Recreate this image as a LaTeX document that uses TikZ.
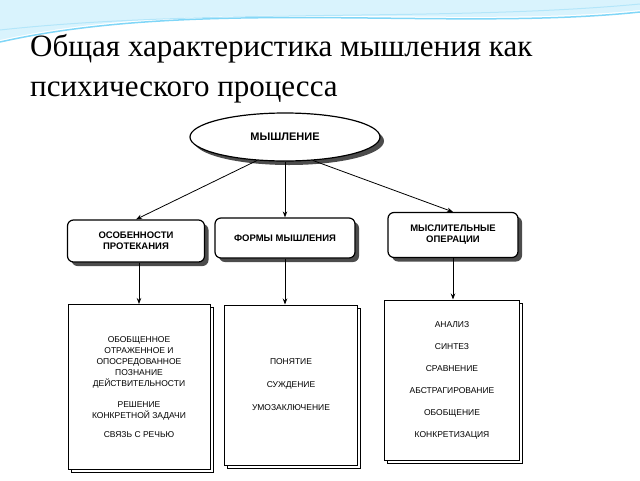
\documentclass[tikz,border=0pt]{standalone}
\usepackage{fontspec}
\setmainfont{Liberation Serif}
\newfontfamily\boxfont{Liberation Sans}
\usetikzlibrary{shapes.geometric,arrows.meta}
\tikzset{
  headbox/.style={draw,line width=1.2pt,rounded corners=6pt,fill=white,align=center,
    font=\boxfont\fontsize{9.5}{11}\selectfont\bfseries},
  listbox/.style={draw,line width=1pt,fill=white,align=center,
    font=\boxfont\fontsize{8.5}{11}\selectfont},
  link/.style={-{Stealth[length=6pt]},line width=0.8pt}
}
\begin{document}
\begin{tikzpicture}[x=1pt,y=-1pt]
  \useasboundingbox (0,0) rectangle (640,480);
  % top wave
  \fill[cyan!15] (0,0) -- (640,0) -- (640,10) .. controls (450,30) and (200,-5) .. (0,40) -- cycle;
  \draw[cyan!50,line width=1.5pt] (640,12) .. controls (450,32) and (200,-3) .. (0,42);
  \draw[cyan!30,line width=1pt] (640,4) .. controls (450,22) and (200,8) .. (0,30);
  % title
  \node[anchor=west,font=\fontsize{31}{40}\selectfont,align=left,inner sep=0pt] (title) at (30,69)
    {Общая характеристика мышления как\\психического процесса};
  % top ellipse
  \fill[black!70] (289,141) ellipse (95 and 24);
  \node[draw,ellipse,line width=1.2pt,fill=white,minimum width=190pt,minimum height=48pt,
    font=\boxfont\fontsize{11}{12}\selectfont\bfseries] (root) at (285,137) {МЫШЛЕНИЕ};
  % second row
  \foreach \n/\x/\y/\w/\h/\t in {b1/136/241/137/42/{ОСОБЕННОСТИ\\ПРОТЕКАНИЯ},
      b2/285/238/140/40/{ФОРМЫ МЫШЛЕНИЯ},
      b3/453/235/130/45/{МЫСЛИТЕЛЬНЫЕ\\ОПЕРАЦИИ}}{
    \fill[black!70,rounded corners=6pt] (\x-\w/2+4,\y-\h/2+4) rectangle ++(\w,\h);
    \node[headbox,minimum width=\w pt,minimum height=\h pt] (\n) at (\x,\y) {\t};
  }
  % third row
  \foreach \n/\x/\y/\w/\h/\t in {c1/139/387/142/165/{ОБОБЩЕННОЕ\\ОТРАЖЕННОЕ И\\ОПОСРЕДОВАННОЕ\\ПОЗНАНИЕ\\ДЕЙСТВИТЕЛЬНОСТИ\\[10pt]РЕШЕНИЕ\\КОНКРЕТНОЙ ЗАДАЧИ\\[8pt]СВЯЗЬ С РЕЧЬЮ},
      c2/291/385/133/160/{ПОНЯТИЕ\\[12pt]СУЖДЕНИЕ\\[12pt]УМОЗАКЛЮЧЕНИЕ},
      c3/452/380/135/160/{АНАЛИЗ\\[11pt]СИНТЕЗ\\[11pt]СРАВНЕНИЕ\\[11pt]АБСТРАГИРОВАНИЕ\\[11pt]ОБОБЩЕНИЕ\\[11pt]КОНКРЕТИЗАЦИЯ}}{
    \draw[line width=1pt] (\x-\w/2+3,\y-\h/2+3) rectangle ++(\w,\h);
    \node[listbox,minimum width=\w pt,minimum height=\h pt] (\n) at (\x,\y) {\t};
  }
  % connectors
  \draw[link] (root.220) -- (b1.north);
  \draw[link] (root.south) -- (b2.north);
  \draw[link] (root.320) -- (b3.north);
  \draw[link] (b1.south -| c1.north) -- (c1.north);
  \draw[link] (b2.south) -- (b2.south |- c2.north);
  \draw[link] (b3.south) -- (b3.south |- c3.north);
\end{tikzpicture}
\end{document}
